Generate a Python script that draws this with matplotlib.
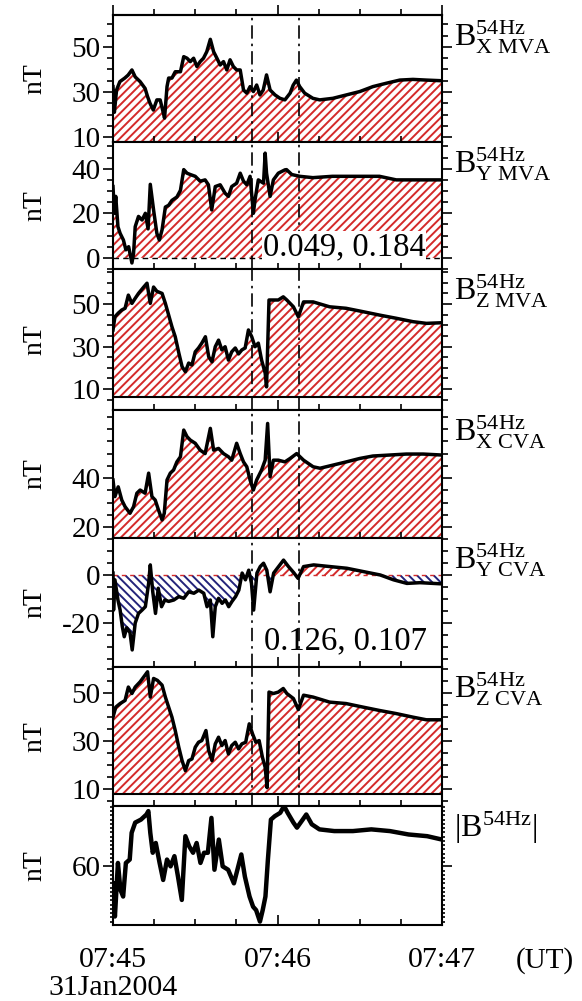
import matplotlib
matplotlib.use("Agg")
import matplotlib.pyplot as plt
from matplotlib.ticker import MultipleLocator, FixedLocator

plt.rcParams['font.family'] = ['Liberation Serif', 'DejaVu Serif']
plt.rcParams['mathtext.fontset'] = 'custom'
plt.rcParams['mathtext.rm'] = 'Liberation Serif'
plt.rcParams['mathtext.it'] = 'Liberation Serif:italic'
plt.rcParams['axes.unicode_minus'] = False
plt.rcParams['hatch.linewidth'] = 1.4

# seconds after 07:45:00 UT, 31 Jan 2004
t_xmva = [0, 0.5, 1.3, 2.5, 4.3, 5.5, 6.9, 8.1, 9.9, 11.7, 12.6, 13.5, 14.7, 16, 17.2, 18.4, 18.8, 19.7, 20.3, 21.5,
          22.7, 24.6, 25.8, 27, 28.2, 29.4, 30.6, 31.8, 33, 34.2, 35.5, 36.7, 37.9, 39.1, 40.3, 41.5, 42.7, 43.9, 45.1, 46.4,
          47.6, 48.8, 50, 51.2, 52.4, 53.6, 54.8, 56, 57.3, 59.1, 60.9, 62.7, 64.6, 65.7, 66.9, 68.1, 69.9, 72.9, 75.4, 80.2,
          85.1, 90, 94.8, 99.7, 104.6, 109.4, 114.3, 120]
b_xmva = [32.4, 21, 30.9, 34.6, 36.2, 37.5, 39.8, 36.7, 34.6, 31.6, 28, 25, 22, 26.5, 26.5, 20.5, 18.4, 32.4, 36.2, 36.2,
          39, 39, 45.7, 45, 43.5, 45, 41.3, 43.5, 45, 47.9, 53.4, 47.9, 45, 42, 43.5, 39.8, 44.3, 41.3, 39.8, 39.8,
          30.9, 29.5, 32.4, 30.2, 33.1, 28.7, 30.9, 37.6, 30.9, 28.7, 27.2, 26.5, 29.5, 33, 35.3, 32.4, 29.5, 27.2, 26.5, 27.2,
          28.7, 30.2, 32.4, 33.9, 35.3, 35.6, 35.3, 35]

t_ymva = [0, 0.5, 1, 1.8, 2.6, 3.8, 4.7, 5.7, 6.9, 7.5, 8.1, 9.3, 10.6, 11.8, 12.8, 13.6, 14.8, 16, 16.9, 17.9,
          19.1, 20.3, 21.5, 23.3, 24.6, 25.8, 27, 28.2, 30, 31.8, 33.6, 34.8, 36, 37.3, 39.1, 40.9, 42.1, 43.3, 45.1, 46.4,
          47.6, 48.8, 50, 51.2, 51.8, 53, 54.9, 55.5, 56, 57.3, 58.5, 60.3, 62.7, 63.3, 65.2, 68.1, 72.9, 80, 85, 92,
          97.2, 103.3, 110, 120]
b_ymva = [32, 20, 27.6, 14, 11, 8, 3.6, 5, -2.3, 2, 14, 18.6, 17, 20, 13, 33, 21.5, 11, 8, 12.6,
          22.8, 23.6, 25.8, 27.3, 30.3, 39.6, 38, 37.4, 36.6, 34.4, 35, 32.8, 21.5, 32, 32.8, 29, 27.6, 32, 33.5, 38,
          34.4, 32.8, 36.6, 20, 26, 35, 33.5, 47, 38, 27.6, 35, 38, 39.5, 39.6, 37.4, 36.6, 36, 36.6, 36.6, 36.6,
          36.6, 35, 35, 35]

t_zmva = [0, 0.7, 1.9, 3.2, 4.4, 5.6, 6.9, 8.1, 9.3, 11.2, 12.4, 13.6, 14.8, 16, 17.9, 19.1, 20.3, 21.5, 22.7, 24,
          25.2, 26.4, 27.6, 28.8, 30, 31.2, 32.4, 33.7, 34.9, 36.1, 37.3, 38.5, 39.7, 40.9, 42.1, 43.3, 44.6, 45.8, 47, 48.2,
          49.4, 50.6, 51.8, 53, 54.2, 55.5, 56, 56.9, 58.5, 60.3, 62.1, 63.4, 65.8, 67.6, 69.5, 73, 79, 85, 91.2, 97.2,
          103.3, 109.4, 114.3, 120]
b_zmva = [37.8, 44, 45.7, 47.2, 48, 54.2, 50.3, 52.7, 55, 58, 59.8, 50.3, 58, 56, 55, 50.3, 44.8, 39.3, 34.6, 27,
          20.5, 18.1, 22.2, 21.3, 27.5, 29.3, 31.6, 34.6, 25.2, 22.8, 29.9, 33, 28.4, 29.9, 23.6, 27.5, 29.3, 26.5, 28.4, 29.3,
          37.8, 34.6, 29.9, 31.6, 23.6, 17.5, 11, 51.9, 51.9, 51.9, 53.4, 51.9, 48.7, 44, 51, 51, 48.7, 48, 46.4, 44.8,
          43.3, 41.7, 40.9, 41.2]

t_xcva = [0, 0.7, 1.9, 3.2, 4.4, 6.2, 7.5, 8.7, 9.9, 11.7, 13, 14.2, 15.4, 16.6, 17.9, 18.7, 19.7, 20.9, 22.1, 23.3,
          24.6, 25.8, 27, 28.2, 30, 31.8, 33.6, 35.5, 36.7, 38.5, 40.3, 42.1, 43.3, 45.1, 46.4, 47.6, 48.8, 50, 51.2, 52.4,
          54.2, 55.5, 56.4, 57.3, 58.5, 60.3, 62.7, 64.6, 67, 69.5, 73, 75.5, 80.3, 85.1, 90, 94.8, 100.9, 107, 113.1, 120]
b_xcva = [39.2, 32.4, 36.4, 31, 28.3, 25.6, 28.3, 33.8, 35.1, 33.8, 42, 32.4, 31, 26.9, 22.9, 25.6, 39.2, 42, 43.3, 46.6,
          48.7, 59.6, 56.9, 55.5, 54.2, 51.4, 50, 60.3, 51.4, 52.1, 50, 48.7, 47.3, 54.2, 50, 46.6, 44.6, 39.2, 35.1, 39.2,
          43.3, 47.3, 62.3, 40.5, 47.3, 47.3, 46.6, 48, 50, 47.3, 44.6, 44, 45.3, 46.6, 48, 49, 49.4, 49.8, 49.8, 49.4]

t_ycva = [0, 0.2, 0.7, 1.8, 2.6, 3.4, 4.1, 5, 6.2, 7, 8.1, 9.3, 10.6, 11.8, 13, 13.6, 14.5, 15.5, 16.5, 17.7,
          18.9, 20.3, 22.2, 24, 25.8, 27.6, 29.5, 31.3, 33.1, 34.3, 35.5, 36.4, 37.3, 38.5, 39.8, 41, 42.2, 43.4, 44.7, 45.9,
          47.1, 48.3, 49.5, 50.5, 51.3, 52.5, 53.7, 54.9, 56.1, 57.3, 58.6, 60.4, 62.2, 64, 65.9, 67.5, 69.5, 73.2, 79.2, 85.3,
          91.4, 97.5, 102.3, 107.2, 112, 120]
b_ycva = [0.8, -14.6, -2, -10.4, -14.6, -21.5, -25.7, -22, -24, -31.2, -20, -16, -14.6, -13.2, -3.4, 4.2, -7, -16, -5.5, -13.2,
          -10.4, -11, -10.4, -9, -9.7, -7, -7.6, -6.3, -7.6, -13.2, -10.4, -25.7, -13.2, -9.7, -11.8, -10.4, -13.2, -11, -9, -6.3,
          0.8, -2, 2, -3.4, -14.6, 0.8, 3.5, 4.9, 2, -7, 0.8, 3.5, 6.2, 3.5, 1, -1.4, 3.5, 4.2, 3.5, 2.8,
          1.4, 0, -2, -3.5, -3.2, -3.7]

t_zcva = [0, 1, 2.6, 4.4, 5.6, 6.9, 8.1, 9.9, 11.7, 12.6, 13.6, 14.8, 16.2, 17.9, 19.1, 20.3, 21.5, 22.7, 24, 25.2,
          26.4, 27.6, 28.8, 30, 31.2, 32.4, 33.9, 34.9, 36.1, 37.3, 38.5, 39.7, 40.9, 42.1, 43.3, 44.6, 45.8, 47, 48.4, 49.7,
          50.9, 52.1, 53.3, 54.5, 55.5, 56.2, 56.9, 58.5, 60.3, 62.1, 63.4, 65.8, 67.6, 69.5, 73, 79, 85, 91.2, 97.2, 103.3,
          109.4, 114.3, 120]
b_zcva = [40, 44.2, 45.7, 47, 52.6, 49.9, 52.6, 54.8, 57.6, 59, 48.4, 56.2, 55.4, 53.4, 48.4, 44.2, 40, 34.4, 27.4, 21.8,
          17.6, 21.8, 22.5, 27.4, 29.5, 30.2, 34.4, 26, 21.8, 28.8, 31.6, 28.1, 30.2, 24.6, 28.1, 29.5, 26.7, 28.8, 29.5, 37.2,
          33, 29.5, 30.2, 23.2, 19, 10.5, 50.5, 49.9, 50.5, 52, 49.9, 47.8, 43.2, 49.2, 48.4, 46.3, 45.7, 44.2, 42.8, 41.5,
          40, 38.9, 38.9]

t_mag = [0, 0.7, 1.8, 2.7, 3.7, 4.7, 6.1, 6.8, 8.1, 10.2, 12.2, 12.9, 13.6, 14.5, 15.6, 17, 18.3, 19.7, 21, 22.4,
         23.7, 25.1, 26.4, 27.8, 29.2, 30.5, 31.9, 33.2, 34.6, 35.9, 37, 38.6, 40, 42, 44.1, 46.8, 48.1, 49.8, 51.1, 52.2,
         53.6, 54.6, 55.6, 56.5, 57.6, 59, 61, 62.4, 63.7, 65.8, 67.1, 69.2, 70.5, 72.5, 75.3, 80.7, 87.5, 94.2, 101, 107.8,
         114.6, 120]
b_mag = [56, 48.2, 60.8, 54.5, 52.9, 60.8, 61.6, 67.9, 70.3, 71, 72.2, 73, 67.9, 63.2, 65.5, 60.8, 56.8, 61.6, 60, 62.4,
         57.6, 52.1, 67.1, 64.7, 63.2, 65.5, 60.8, 63.2, 63.2, 71.4, 59.2, 66.3, 60, 59.2, 56, 62.8, 57.6, 52.9, 50.5, 49.7,
         47, 49.7, 52.9, 61.6, 71, 71.8, 72.6, 74.2, 72.6, 70.3, 69.1, 71, 72.2, 69.9, 68.7, 68.3, 68.3, 68.7, 68.3, 67.5,
         67.1, 66.3]

event_times = [50.7, 67.8]
xtick_labels = ['07:45', '07:46', '07:47']
ratio_mva = '0.049, 0.184'
ratio_cva = '0.126, 0.107'

panels = [
    # (t, b, label, ylim, yticks, fill base, box in pixels top/bottom)
    (t_xmva, b_xmva, r'$\mathrm{B}^{\mathrm{54Hz}}_{\mathrm{X\ MVA}}$', (7.8, 64.2), [10, 30, 50], 7.8, 15, 142),
    (t_ymva, b_ymva, r'$\mathrm{B}^{\mathrm{54Hz}}_{\mathrm{Y\ MVA}}$', (-5, 52), [0, 20, 40], 0, 142, 269),
    (t_zmva, b_zmva, r'$\mathrm{B}^{\mathrm{54Hz}}_{\mathrm{Z\ MVA}}$', (0.1, 66.5), [10, 30, 50], 6.2, 269, 410),
    (t_xcva, b_xcva, r'$\mathrm{B}^{\mathrm{54Hz}}_{\mathrm{X\ CVA}}$', (15.5, 67.8), [20, 40], 15.5, 410, 538),
    (t_ycva, b_ycva, r'$\mathrm{B}^{\mathrm{54Hz}}_{\mathrm{Y\ CVA}}$', (-38.3, 15.4), [-20, 0], 0, 538, 667),
    (t_zcva, b_zcva, r'$\mathrm{B}^{\mathrm{54Hz}}_{\mathrm{Z\ CVA}}$', (2.8, 61), [10, 30, 50], 7.9, 667, 806),
    (t_mag, b_mag, r'$|\mathrm{B}^{\mathrm{54Hz}}|$', (46.2, 74.2), [60], None, 806, 925),
]

W, H = 582, 1001
fig = plt.figure(figsize=(W / 100, H / 100), dpi=100)
red = '#d42a2a'
blue = '#23237a'

for i, (t, b, label, ylim, yticks, base, top, bot) in enumerate(panels):
    ax = fig.add_axes([113 / W, 1 - bot / H, 329 / W, (bot - top) / H])
    if base is not None:
        if i == 4:
            ax.fill_between(t, b, base, where=[v >= 0 for v in b], interpolate=True,
                            facecolor='none', edgecolor=red, hatch='////', linewidth=0)
            ax.fill_between(t, b, base, where=[v <= 0 for v in b], interpolate=True,
                            facecolor='none', edgecolor=blue, hatch='\\\\\\\\', linewidth=0)
            ax.axhline(0, color=red, lw=1.0, ls=(0, (3, 3)))
        else:
            ax.fill_between(t, b, base, where=[v >= base for v in b], interpolate=True,
                            facecolor='none', edgecolor=red, hatch='////', linewidth=0)
        if i == 1:
            ax.axhline(0, color='black', lw=1.0, ls=(0, (4, 3)))
        if i in (2, 5):
            ax.axhline(base, color='black', lw=1.5)
    ax.plot(t, b, color='black', lw=3.2 if i == 6 else 2.5)
    if i < 6:
        for te in event_times:
            ax.axvline(te, color='black', lw=1.2, ls=(0, (8, 3, 1.5, 3)))

    ax.set_xlim(0, 120)
    ax.set_ylim(*ylim)
    ax.xaxis.set_major_locator(FixedLocator([0, 60, 120]))
    ax.xaxis.set_minor_locator(MultipleLocator(15))
    ax.yaxis.set_major_locator(FixedLocator(yticks))
    ax.yaxis.set_minor_locator(MultipleLocator(5))
    ax.tick_params(axis='x', which='both', direction='in', bottom=True, top=False, labelbottom=False)
    ax.tick_params(axis='x', which='major', length=7, width=1.2)
    ax.tick_params(axis='x', which='minor', length=4, width=1.2)
    ax.tick_params(axis='y', which='both', direction='out', left=True, right=True, labelsize=21, width=1.2, pad=2)
    ax.tick_params(axis='y', which='major', length=7)
    ax.tick_params(axis='y', which='minor', length=4)
    for s in ax.spines.values():
        s.set_linewidth(1.5)
    ax.set_ylabel('nT', fontsize=20)
    ax.yaxis.set_label_coords(-0.2, 0.5)
    ax.text(1.035, 1 - 4 / (bot - top), label, transform=ax.transAxes, fontsize=23, va='top', ha='left')

    if i == 0:
        sec = ax.secondary_xaxis('top')
        sec.xaxis.set_major_locator(FixedLocator([0, 60, 120]))
        sec.xaxis.set_minor_locator(MultipleLocator(15))
        sec.tick_params(which='both', direction='out', labeltop=False)
        sec.tick_params(which='major', length=7, width=1.2)
        sec.tick_params(which='minor', length=4, width=1.2)
        sec.spines['top'].set_linewidth(1.5)
    if i == 1:
        ax.text(0.95, 0.05, ratio_mva, transform=ax.transAxes, fontsize=23.5, ha='right', va='bottom',
                bbox=dict(facecolor='white', edgecolor='none', pad=0.5))
    if i == 4:
        ax.text(0.955, 0.08, ratio_cva, transform=ax.transAxes, fontsize=23.5, ha='right', va='bottom')
    if i == 6:
        ax.yaxis.set_minor_locator(MultipleLocator(1))
        ax.tick_params(axis='y', which='minor', length=2.5)
        ax.tick_params(axis='x', labelbottom=True, labelsize=21.5, pad=16)
        ax.set_xticklabels(xtick_labels)

fig.text(545 / W, 1 - 961 / H, '(UT)', fontsize=21, ha='center', va='center')
fig.text(113 / W, 1 - 988 / H, '31Jan2004', fontsize=21.5, ha='center', va='center')

fig.savefig('out.png', dpi=100)
